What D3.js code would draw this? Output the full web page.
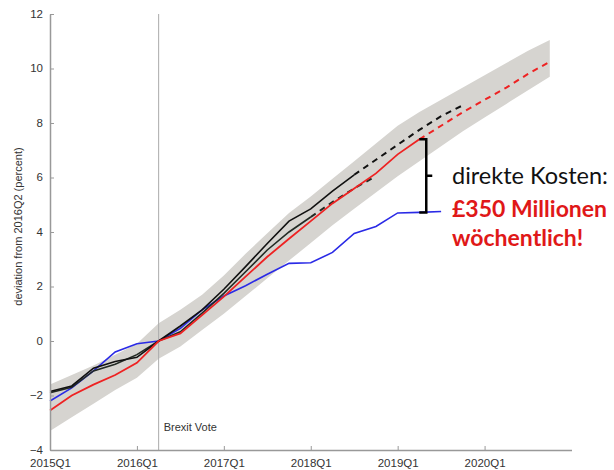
<!DOCTYPE html>
<html>
<head>
<meta charset="utf-8">
<script src="https://cdn.jsdelivr.net/npm/d3@7"></script>
<style>
  body { margin: 0; background: #fff; }
  svg text { font-family: "Liberation Sans", Arial, sans-serif; }
</style>
</head>
<body>
<div id="chart"></div>
<script>
// quarters on the x axis (axis runs to 2021Q1)
const quarters = ['2015Q1', '2015Q2', '2015Q3', '2015Q4', '2016Q1', '2016Q2', '2016Q3', '2016Q4',
  '2017Q1', '2017Q2', '2017Q3', '2017Q4', '2018Q1', '2018Q2', '2018Q3', '2018Q4',
  '2019Q1', '2019Q2', '2019Q3', '2019Q4', '2020Q1', '2020Q2', '2020Q3', '2020Q4', '2021Q1'];
const xTicks = ['2015Q1', '2016Q1', '2017Q1', '2018Q1', '2019Q1', '2020Q1'];
const yTicks = [-4, -2, 0, 2, 4, 6, 8, 10, 12];
const brexitQuarter = '2016Q2';

// grey band (2015Q1 .. 2020Q4)
const bandUpper = [-1.6, -1.25, -0.9, -0.5, -0.1, 0.65, 1.15, 1.7, 2.4, 3.2, 3.95, 4.7,
  5.3, 5.95, 6.6, 7.25, 7.9, 8.4, 8.85, 9.3, 9.75, 10.2, 10.65, 11.05];
const bandLower = [-3.3, -2.8, -2.3, -1.8, -1.35, -0.65, -0.2, 0.4, 1.0, 1.65, 2.3, 2.95,
  3.6, 4.25, 4.85, 5.45, 6.05, 6.6, 7.15, 7.7, 8.2, 8.7, 9.2, 9.7];

// red: solid 2015Q1..2019Q2, dashed 2019Q2..2020Q4
const redSolid = [-2.55, -2.0, -1.6, -1.25, -0.8, 0, 0.28, 0.95, 1.63, 2.36, 3.09, 3.75,
  4.4, 5.05, 5.6, 6.15, 6.85, 7.4];
const redDashed = [7.4, 7.9, 8.4, 8.85, 9.3, 9.8, 10.25];

// black A: solid 2015Q1..2018Q3, dashed 2018Q3..2019Q4
const blackASolid = [-1.85, -1.65, -1.0, -0.75, -0.6, 0, 0.55, 1.14, 1.9, 2.73, 3.58, 4.4,
  4.85, 5.5, 6.1];
const blackADashed = [6.1, 6.65, 7.2, 7.75, 8.25, 8.65];

// black B: solid 2015Q1..2018Q1, dashed 2018Q1..2018Q4
const blackBSolid = [-1.9, -1.7, -1.1, -0.85, -0.5, 0, 0.34, 1.02, 1.75, 2.54, 3.34, 4.0, 4.55];
const blackBDashed = [4.55, 5.1, 5.6, 6.05];

// blue: 2015Q1..2019Q3
const blue = [-2.2, -1.72, -1.1, -0.4, -0.1, 0, 0.46, 1.14, 1.65, 2.03, 2.45, 2.85,
  2.87, 3.25, 3.95, 4.2, 4.7, 4.72, 4.75];

const width = 614;
const height = 470;
const margins = {top: 14, right: 42.5, bottom: 20, left: 50};

const svg = d3.select('#chart').append('svg')
  .attr('width', width)
  .attr('height', height);

const x = d3.scalePoint()
  .domain(quarters)
  .range([margins.left, width - margins.right]);

const y = d3.scaleLinear()
  .domain([-4, 12])
  .range([height - margins.bottom, margins.top]);

// turn an array of values starting at a given quarter into points
const pts = (vals, start) => vals.map((v, i) => ({q: quarters[start + i], v: v}));

const line = d3.line().x(d => x(d.q)).y(d => y(d.v));

// band
const bandData = bandUpper.map((u, i) => ({q: quarters[i], u: u, l: bandLower[i]}));
svg.append('path')
  .datum(bandData)
  .attr('fill', '#d6d4d0')
  .attr('d', d3.area().x(d => x(d.q)).y0(d => y(d.l)).y1(d => y(d.u)));

// brexit vote line
svg.append('line')
  .attr('x1', x(brexitQuarter)).attr('x2', x(brexitQuarter))
  .attr('y1', y(12)).attr('y2', y(-4))
  .attr('stroke', '#aaa')
  .attr('stroke-width', 1);

svg.append('text')
  .attr('x', x(brexitQuarter) + 5)
  .attr('y', y(-3.3))
  .attr('font-size', 11)
  .attr('fill', '#333')
  .text('Brexit Vote');

// series
const series = [
  {vals: blue, start: 0, color: '#2a2ae6', w: 1.6, dash: null},
  {vals: blackBSolid, start: 0, color: '#222a24', w: 1.6, dash: null},
  {vals: blackBDashed, start: 12, color: '#222a24', w: 2, dash: '6,5'},
  {vals: blackASolid, start: 0, color: '#111', w: 1.6, dash: null},
  {vals: blackADashed, start: 14, color: '#111', w: 2, dash: '6,5'},
  {vals: redSolid, start: 0, color: '#ee2222', w: 1.8, dash: null},
  {vals: redDashed, start: 17, color: '#ee2222', w: 2, dash: '6,5'}
];

svg.selectAll('.series')
  .data(series)
  .enter()
  .append('path')
  .attr('class', 'series')
  .attr('fill', 'none')
  .attr('stroke', d => d.color)
  .attr('stroke-width', d => d.w)
  .attr('stroke-dasharray', d => d.dash)
  .attr('d', d => line(pts(d.vals, d.start)));

// axes
const xAxis = svg.append('g')
  .attr('transform', `translate(0, ${y(-4)})`)
  .call(d3.axisBottom(x).tickValues(xTicks).tickSizeInner(-4).tickSizeOuter(0).tickPadding(8.5));

const yAxis = svg.append('g')
  .attr('transform', `translate(${margins.left}, 0)`)
  .call(d3.axisLeft(y).tickValues(yTicks).tickSizeInner(-4).tickSizeOuter(0).tickPadding(7));

[xAxis, yAxis].forEach(g => {
  g.select('.domain').attr('stroke', '#999').attr('stroke-width', 1.5);
  g.selectAll('.tick line').attr('stroke', '#999');
  g.selectAll('.tick text')
    .attr('font-size', 11.5)
    .attr('font-family', '"Liberation Sans", Arial, sans-serif')
    .attr('fill', '#333');
});
yAxis.selectAll('.tick text').attr('dy', '0.26em');

svg.append('text')
  .attr('transform', `translate(22, ${y(4.2)}) rotate(-90)`)
  .attr('text-anchor', 'middle')
  .attr('font-size', 11)
  .attr('fill', '#333')
  .text('deviation from 2016Q2 (percent)');

// bracket between red and blue at 2019Q2
const bx = (x('2019Q2') + x('2019Q3')) / 2 - 4;
const bTop = y(redSolid[17]);
const bBot = y(blue[17]);
svg.append('path')
  .attr('fill', 'none')
  .attr('stroke', '#000')
  .attr('stroke-width', 2.5)
  .attr('d', `M${bx - 7},${bTop} H${bx} V${bBot} H${bx - 7} M${bx},${(bTop + bBot) / 2} H${bx + 6}`);

const note = svg.append('g');
note.append('text')
  .attr('x', 452).attr('y', 184)
  .attr('font-size', 23.5)
  .attr('fill', '#111')
  .style('font-family', 'Lato, sans-serif')
  .text('direkte Kosten:');
note.append('text')
  .attr('x', 452).attr('y', 217)
  .attr('font-size', 23)
  .attr('font-weight', 'bold')
  .attr('fill', '#e01818')
  .style('font-family', 'Lato, sans-serif')
  .text('£350 Millionen');
note.append('text')
  .attr('x', 452).attr('y', 246)
  .attr('font-size', 23)
  .attr('font-weight', 'bold')
  .attr('fill', '#e01818')
  .style('font-family', 'Lato, sans-serif')
  .text('wöchentlich!');
</script>
</body>
</html>
